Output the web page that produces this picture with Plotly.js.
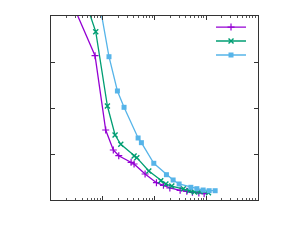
<!DOCTYPE html>
<html>
<head>
<meta charset="utf-8">
<script src="https://cdn.plot.ly/plotly-3.0.1.min.js"></script>
<style>html,body{margin:0;padding:0;background:#fff;}#chart{width:289px;height:245px;}</style>
</head>
<body>
<div id="chart"></div>
<script>
var xPurple = [2.33, 7.1, 11.4, 16.0, 20.4, 35.3, 40.3, 65.8, 109, 149, 198, 313, 421, 541, 719, 911];
var yPurple = [4.39, 3.137, 1.522, 1.087, 0.963, 0.820, 0.783, 0.565, 0.376, 0.320, 0.261, 0.211, 0.189, 0.167, 0.152, 0.137];

var xGreen = [4.41, 7.32, 12.3, 17.3, 22.3, 40.3, 45.5, 77.6, 132, 166, 216, 362, 473, 591, 762, 1104];
var yGreen = [4.39, 3.659, 2.043, 1.413, 1.211, 0.957, 0.920, 0.630, 0.420, 0.348, 0.304, 0.246, 0.202, 0.174, 0.180, 0.159];

var xBlue = [8.31, 13.2, 19.2, 25.8, 48.2, 55.8, 96.9, 170, 229, 299, 504, 658, 871, 1138, 1486];
var yBlue = [4.39, 3.115, 2.370, 2.015, 1.348, 1.246, 0.798, 0.550, 0.435, 0.348, 0.276, 0.246, 0.217, 0.202, 0.202];

var traces = [
  {x: xPurple, y: yPurple, name: ' ', legend: 'legend', mode: 'lines+markers', type: 'scatter',
   line: {color: '#9400D3', width: 1.3},
   marker: {symbol: 'cross-thin', size: 5, color: '#9400D3', line: {color: '#9400D3', width: 1.2}}},
  {x: xGreen, y: yGreen, name: ' ', legend: 'legend2', mode: 'lines+markers', type: 'scatter',
   line: {color: '#009E73', width: 1.3},
   marker: {symbol: 'x-thin', size: 5, color: '#009E73', line: {color: '#009E73', width: 1.4}}},
  {x: xBlue, y: yBlue, name: ' ', legend: 'legend3', mode: 'lines+markers', type: 'scatter',
   line: {color: '#56B4E9', width: 1.3},
   marker: {symbol: 'square', size: 5, color: '#56B4E9'}}
];

function leg(yp) {
  return {x: 0.773, y: yp, xanchor: 'left', yanchor: 'middle', bgcolor: 'rgba(0,0,0,0)',
          itemwidth: 30, font: {size: 10, family: 'DejaVu Sans'}, borderwidth: 0};
}

var layout = {
  width: 289, height: 245,
  margin: {l: 51, r: 31, t: 16, b: 45, pad: 0},
  paper_bgcolor: '#fff', plot_bgcolor: '#fff',
  showlegend: true,
  legend: leg(0.940),
  legend2: leg(0.864),
  legend3: leg(0.788),
  xaxis: {type: 'log', range: [0, 4], dtick: 1, showgrid: false, zeroline: false,
          showline: true, linecolor: '#333', linewidth: 1, mirror: 'ticks',
          ticks: 'inside', ticklen: 4, tickcolor: '#333', showticklabels: false,
          minor: {ticks: 'inside', ticklen: 2, dtick: 'D1', tickcolor: '#555', showgrid: false}},
  yaxis: {range: [0, 4], dtick: 1, showgrid: false, zeroline: false,
          showline: true, linecolor: '#333', linewidth: 1, mirror: 'ticks',
          ticks: 'inside', ticklen: 4, tickcolor: '#333', showticklabels: false}
};

Plotly.newPlot('chart', traces, layout, {displayModeBar: false, staticPlot: true});
</script>
</body>
</html>
